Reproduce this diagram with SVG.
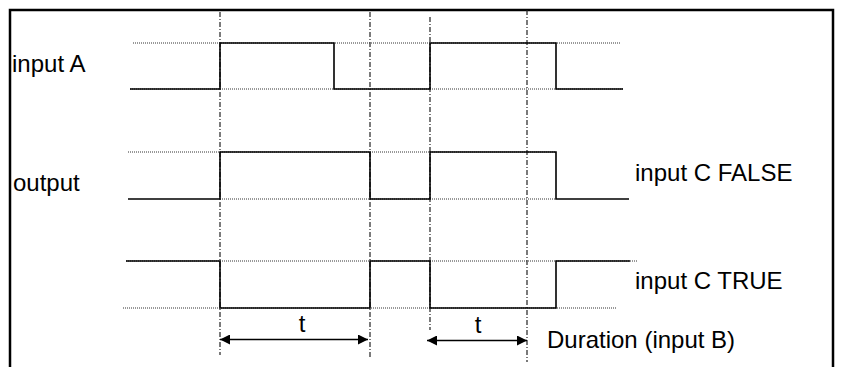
<svg xmlns="http://www.w3.org/2000/svg" width="841" height="367" viewBox="0 0 841 367">
<style>
.frame{fill:none;stroke:#000;stroke-width:2.5}
.dot{fill:none;stroke:#333;stroke-width:1;stroke-dasharray:1 1}
.sig{fill:none;stroke:#000;stroke-width:1.6;stroke-linejoin:miter}
.grid{fill:none;stroke:#222;stroke-width:1.2;stroke-dasharray:5 2 1 2}
.lbl{font-family:"Liberation Sans",Arial,sans-serif;font-size:24px;fill:#000}
.dim{fill:none;stroke:#000;stroke-width:1.5}
</style>
<defs>
<marker id="ah" viewBox="0 0 10 10" refX="10" refY="5" markerWidth="10" markerHeight="10" markerUnits="userSpaceOnUse" orient="auto-start-reverse">
<path d="M0,0 L10,5 L0,10 z" fill="#000"/>
</marker>
</defs>
<rect width="841" height="367" fill="#fff"/>
<rect class="frame" x="10" y="10" width="823" height="400"/>
<g id="gridlines">
<line class="grid" x1="220" y1="12" x2="220" y2="355"/>
<line class="grid" x1="370" y1="12" x2="370" y2="357"/>
<line class="grid" x1="430" y1="17" x2="430" y2="330"/>
<line class="grid" x1="527" y1="10" x2="527" y2="362"/>
</g>
<g id="inputA">
<line class="dot" x1="133" y1="43" x2="621" y2="43"/>
<line class="dot" x1="130" y1="89" x2="623" y2="89"/>
<polyline class="sig" points="130,89 220,89 220,43 334,43 334,89 430,89 430,43 556,43 556,89 623,89"/>
<text class="lbl" x="12" y="72">input A</text>
</g>
<g id="output">
<line class="dot" x1="128" y1="152" x2="556" y2="152"/>
<line class="dot" x1="220" y1="199" x2="556" y2="199"/>
<polyline class="sig" points="128,199 220,199 220,152 370,152 370,199 430,199 430,152 556,152 556,199 629,199"/>
<text class="lbl" x="13" y="191">output</text>
<text class="lbl" x="635" y="181">input C FALSE</text>
</g>
<g id="inputC-true">
<line class="dot" x1="126" y1="261" x2="637" y2="261"/>
<line class="dot" x1="123" y1="308" x2="617" y2="308"/>
<polyline class="sig" points="126,261 220,261 220,308 370,308 370,261 430,261 430,308 556,308 556,261 630,261"/>
<text class="lbl" x="635" y="289">input C TRUE</text>
</g>
<g id="connectors">
<line class="dim" x1="220" y1="339.5" x2="368" y2="339.5" marker-start="url(#ah)" marker-end="url(#ah)"/>
<line class="dim" x1="427" y1="340.5" x2="527" y2="340.5" marker-start="url(#ah)" marker-end="url(#ah)"/>
</g>
<g id="labels">
<text class="lbl" x="302" y="332" text-anchor="middle">t</text>
<text class="lbl" x="478" y="333" text-anchor="middle">t</text>
<text class="lbl" x="547" y="348">Duration (input B)</text>
</g>
</svg>
